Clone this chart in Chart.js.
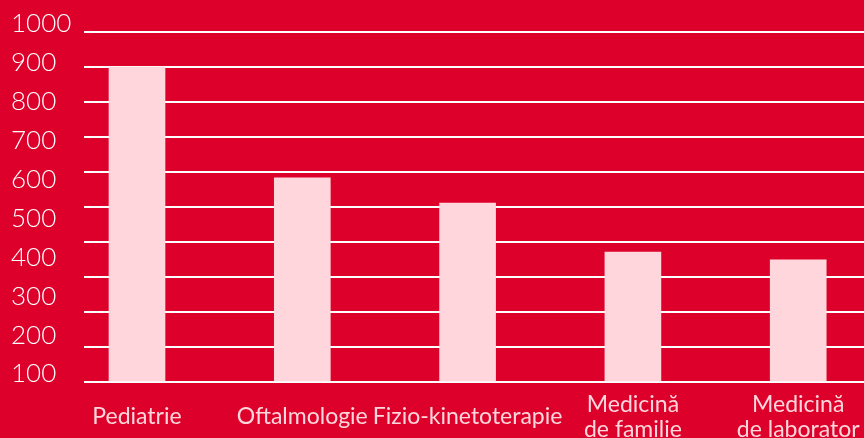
<!DOCTYPE html>
<html>
<head>
<meta charset="utf-8">
<script src="https://cdn.jsdelivr.net/npm/chart.js@4.4.1/dist/chart.umd.min.js"></script>
<style>
  html, body { margin: 0; padding: 0; background: #DC002B; overflow: hidden; }
  #wrap { position: relative; width: 864px; height: 438px; }
</style>
</head>
<body>
<div id="wrap"><canvas id="c"></canvas></div>
<script>
const categories = [
  ['Pediatrie'],
  ['Oftalmologie'],
  ['Fizio-kinetoterapie'],
  ['Medicină', 'de familie'],
  ['Medicină', 'de laborator']
];
const values = [900, 583, 511, 371, 349];
const yTickLabels = [1000, 900, 800, 700, 600, 500, 400, 300, 200, 100];

const RED = '#DC002B';
const PINK = '#FFD6DC';
const FONT = 'Lato, "Open Sans", sans-serif';

const points = values.map((v, i) => ({ x: i, y: v }));

new Chart(document.getElementById('c'), {
  type: 'bar',
  data: {
    datasets: [{
      data: points,
      backgroundColor: PINK,
      borderWidth: 0,
      barThickness: 56,
      xAxisID: 'x',
      yAxisID: 'y'
    }]
  },
  options: {
    responsive: true,
    maintainAspectRatio: false,
    animation: false,
    devicePixelRatio: 1,
    layout: { padding: { top: 32, left: 11, right: 0, bottom: 0 } },
    plugins: { legend: { display: false }, tooltip: { enabled: false }, title: { display: false } },
    scales: {
      x: {
        type: 'linear',
        position: 'bottom',
        offset: false,
        min: -0.3206,
        max: 4.398,
        grid: { display: false, drawTicks: false },
        border: { display: false },
        afterBuildTicks: (s) => { s.ticks = categories.map((_, i) => ({ value: i })); },
        afterFit: (s) => { s.height = 56; s.paddingLeft = 0; s.paddingRight = 0; },
        ticks: {
          autoSkip: false,
          maxRotation: 0,
          minRotation: 0,
          padding: 23,
          crossAlign: 'center',
          color: PINK,
          font: { family: FONT, size: 23, lineHeight: 1.05 },
          callback: (v) => categories[Math.round(v)] || ''
        }
      },
      yl: {
        type: 'linear',
        position: 'left',
        weight: 1,
        min: Math.min(...yTickLabels),
        max: Math.max(...yTickLabels),
        grid: { display: false, drawTicks: false },
        border: { display: false },
        afterBuildTicks: (s) => { s.ticks = yTickLabels.map(v => ({ value: v })); },
        afterFit: (s) => { s.width = 73; s.paddingTop = 0; s.paddingBottom = 0; },
        ticks: {
          crossAlign: 'far',
          padding: 0,
          labelOffset: -8,
          color: '#FFFFFF',
          font: { family: FONT, size: 26, weight: 300 },
          callback: (v) => String(v)
        }
      },
      y: {
        type: 'linear',
        position: 'left',
        weight: 0,
        min: 0,
        max: 1000,
        grid: { color: '#FFFFFF', lineWidth: 2, drawTicks: false },
        border: { display: false },
        afterFit: (s) => { s.width = 0; },
        ticks: { display: false, stepSize: 100 }
      }
    }
  }
});
</script>
</body>
</html>
